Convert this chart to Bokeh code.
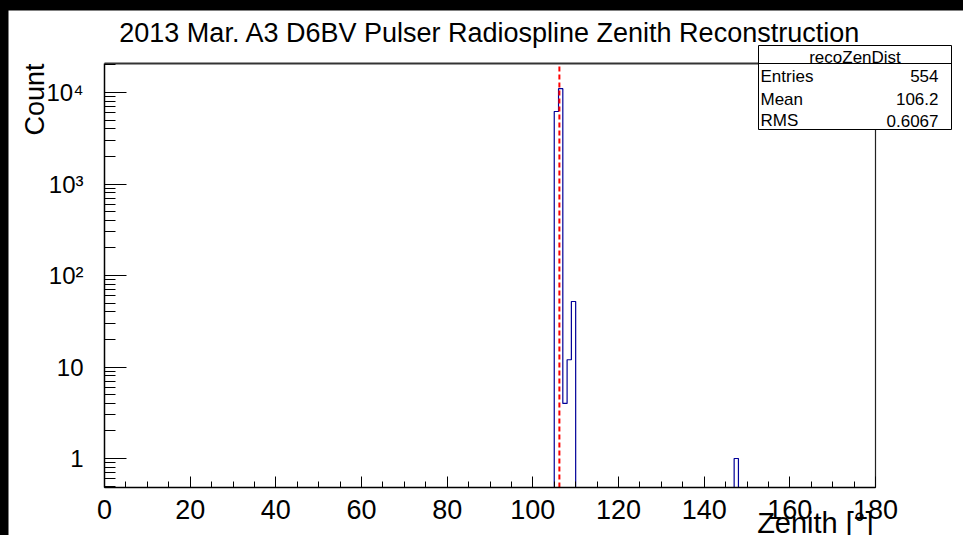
import math
from bokeh.plotting import figure
from bokeh.models import Range1d, FixedTicker, Spacer
from bokeh.layouts import column, row
from bokeh.core.properties import value
from bokeh.embed import file_html
from bokeh.resources import INLINE

# ---------------- data ----------------
zenith_bin_low = [105, 106, 107, 108, 109, 147]
bin_width = 1.0
bin_counts = [6200, 11000, 4, 12, 52, 1]
hist_name = "recoZenDist"
stat_names = ["Entries", "Mean", "RMS"]
stat_values = ["554", "106.2", "0.6067"]
mean_zenith = 106.2
x_major_ticks = [0, 20, 40, 60, 80, 100, 120, 140, 160, 180]
x_minor_step = 5
y_major_ticks = [1, 10, 100, 1000, 10000]
y_tick_labels = ["1", "10", "10\u00b2", "10\u00b3", "10\u2074"]
y_minor_mantissas = [2, 3, 4, 5, 6, 7, 8, 9]
title_text = "2013 Mar. A3 D6BV Pulser Radiospline Zenith Reconstruction"
x_title = "Zenith [\u00b0]"
y_title = "Count"

FONT = "Liberation Sans"

# ---------------- layout geometry (page pixels) ----------------
W, H = 955, 525          # figure size
OX, OY = 8, 10           # offset of the figure in the page
PX0, PX180 = 104, 875    # page x of zenith 0 and 180
PXD = (PX180 - PX0) / 180.0
PY1, PYD = 458, 91.5     # page y of count 1, pixels per decade


def zx(px):
    return (px - PX0) / PXD


def cy(py):
    return 10 ** ((PY1 - py) / PYD)


X_LO, X_HI = x_major_ticks[0], x_major_ticks[-1]
Y_LO, Y_HI = cy(487), cy(63)

p = figure(width=W, height=H,
           x_range=Range1d(zx(OX), zx(OX + W)),
           y_range=Range1d(cy(OY + H), cy(OY)),
           y_axis_type="log", output_backend="svg", toolbar_location=None,
           title=None, min_border=0,
           min_border_left=0, min_border_right=0,
           min_border_top=0, min_border_bottom=0)
p.outline_line_color = None
p.grid.visible = False
p.background_fill_color = "white"
p.border_fill_color = "white"

# ---- x axis ----
xa = p.xaxis[0]
xa.fixed_location = Y_LO
xa.bounds = (X_LO, X_HI)
xa.ticker = FixedTicker(ticks=x_major_ticks,
                        minor_ticks=list(range(X_LO, X_HI + 1, x_minor_step)))
xa.axis_line_color = "black"
xa.axis_line_width = 1.5
xa.major_tick_in = 11
xa.major_tick_out = 0
xa.minor_tick_in = 6
xa.minor_tick_out = 0
xa.major_tick_line_color = "black"
xa.minor_tick_line_color = "black"
xa.major_label_text_font = FONT
xa.major_label_text_font_size = "27px"
xa.major_label_text_color = "black"
xa.major_label_standoff = 12

# ---- y axis ----
ya = p.yaxis[0]
ya.fixed_location = X_LO
ya.bounds = (Y_LO, Y_HI)
minor = [m * 10 ** d for d in range(-1, 5) for m in y_minor_mantissas + [1]]
minor = [v for v in minor if Y_LO <= v <= Y_HI and v not in y_major_ticks]
ya.ticker = FixedTicker(ticks=y_major_ticks, minor_ticks=minor)
ya.major_label_overrides = {t: lab for t, lab in zip(y_major_ticks, y_tick_labels)}
ya.axis_line_color = "black"
ya.axis_line_width = 1.5
ya.major_tick_in = 22
ya.major_tick_out = 0
ya.minor_tick_in = 11
ya.minor_tick_out = 0
ya.major_tick_line_color = "black"
ya.minor_tick_line_color = "black"
ya.major_label_text_font = FONT
ya.major_label_text_font_size = "24px"
ya.major_label_text_color = "black"
ya.major_label_standoff = 21

# ---- histogram outline ----
xs, ys = [], []
prev_end = None
for lo, c in zip(zenith_bin_low, bin_counts):
    hi = lo + bin_width
    if prev_end is None or lo != prev_end:
        if prev_end is not None:
            xs.append(prev_end)
            ys.append(Y_LO)
        xs.append(lo)
        ys.append(Y_LO)
    xs += [lo, hi]
    ys += [c, c]
    prev_end = hi
xs.append(prev_end)
ys.append(Y_LO)
p.line(xs, ys, line_color="#000099", line_width=1.2)

# ---- mean line ----
p.segment(x0=[mean_zenith], y0=[Y_LO], x1=[mean_zenith], y1=[Y_HI],
          line_color="red", line_width=2, line_dash="5 3")

# ---- frame (top and right) ----
p.line([X_LO, X_HI], [Y_HI, Y_HI], line_color="#333333", line_width=2)
p.line([X_HI, X_HI], [Y_LO, Y_HI], line_color="#222222", line_width=1.2)

# ---- stats box ----
bl, br, bt, bb, bsep = 758, 951, 45, 129, 63
p.quad(left=[zx(bl)], right=[zx(br)], top=[cy(bt)], bottom=[cy(bb)],
       fill_color="white", line_color="black", line_width=1)
p.segment(x0=[zx(bl)], y0=[cy(bsep)], x1=[zx(br)], y1=[cy(bsep)],
          line_color="black", line_width=1)
txt = dict(text_font=value(FONT), text_color="black", text_baseline="middle")
p.text(x=[zx((bl + br) / 2)], y=[cy(56.5)], text=[hist_name],
       text_align="center", text_font_size="17px", **txt)
row_mid = [75.5, 98.5, 120]
p.text(x=[zx(760)] * 3, y=[cy(b) for b in row_mid], text=stat_names,
       text_align="left", text_font_size="17px", **txt)
p.text(x=[zx(938)] * 3, y=[cy(b) for b in row_mid], text=stat_values,
       text_align="right", text_font_size="17px", **txt)

# ---- titles ----
p.text(x=[(X_LO + X_HI) / 2], y=[cy(32.5)], text=[title_text],
       text_align="center", text_font_size="27px", **txt)
p.text(x=[zx(34)], y=[cy(63)], text=[y_title], angle=math.pi / 2,
       text_align="right", text_font_size="27px", **txt)
p.text(x=[zx(873)], y=[cy(522.5)], text=[x_title],
       text_align="right", text_font_size="29px", **txt)

top_bar = Spacer(width=963, height=OY, styles={"background-color": "black"})
left_bar = Spacer(width=OX, height=H, styles={"background-color": "black"})
layout = column(top_bar, row(left_bar, p))

html = file_html(layout, INLINE)
html = html.replace("</head>",
                    "<style>html,body{margin:0;padding:0;background:#000;}</style></head>", 1)
open("out.html", "w").write(html)
